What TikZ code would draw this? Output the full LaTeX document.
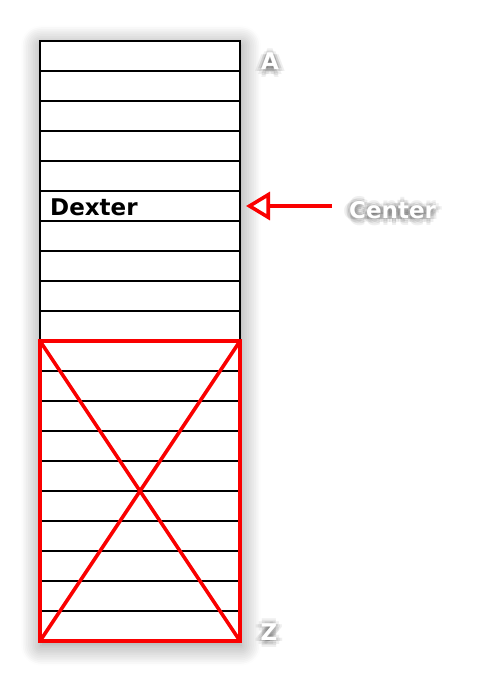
\documentclass[tikz,border=0pt]{standalone}
\usepackage{fontspec}
\newfontfamily\labelfont{DejaVu Sans}
\usetikzlibrary{
  arrows.meta,
  positioning,
  calc,
  shadows.blur
}
\definecolor{markred}{RGB}{250,0,0}
\definecolor{haloshade}{RGB}{30,30,30}

% white label with a soft dark halo
\newcommand\glowlabel[3]{%
  \foreach \gx/\gy in {-2/0,2/0,0/-2,0/2,-4/0,4/0,0/-4,0/4,-3/-3,3/3,-3/3,3/-3,-6/0,6/0,0/-6,0/6}
    \node[glowshade,#2,xshift=\gx bp,yshift=\gy bp-1.5bp] {#3};
  \node[glowfront,#2] (#1) {#3};}

\begin{document}
\begin{tikzpicture}[x=1bp, y=-1bp,
            rowbox/.style={rectangle, draw=black, fill=white, line width=1.8bp, minimum width=200bp, minimum height=30bp, inner sep=0pt, outer sep=0pt},
            colbox/.style={rectangle, fill=white, minimum width=200bp, minimum height=600bp, inner sep=0pt,
              blur shadow={shadow xshift=1bp, shadow yshift=-5bp, shadow blur radius=20bp, shadow opacity=45, shadow blur steps=12}},
            glowshade/.style={font=\labelfont\bfseries\fontsize{23bp}{23bp}\selectfont, text=haloshade, text opacity=0.07, inner sep=0pt},
            glowfront/.style={font=\labelfont\bfseries\fontsize{23bp}{23bp}\selectfont, text=white, inner sep=0pt},
            crossline/.style={draw=markred, line width=3.6bp, line join=miter},
            pointer/.style={draw=markred, line width=3.6bp, -{Triangle[open, length=24bp, width=28bp, fill=white]}}]
  \useasboundingbox (0,0) rectangle (477,682);
  % column with its shadow
  \node[colbox] (col) at (140,340.5) {};
  \foreach \i in {1,...,20}
    \node[rowbox] (r\i) at (140,26+30*\i) {};
  % crossed-out lower half
  \draw[crossline] (r11.north west) rectangle (r20.south east);
  \draw[crossline] (r11.north west) -- (r20.south east);
  \draw[crossline] (r11.north east) -- (r20.south west);
  % entry
  \node[anchor=base west, inner sep=0pt, font=\labelfont\bfseries\fontsize{23bp}{23bp}\selectfont] (dexter) at (50,215) {Dexter};
  % labels
  \glowlabel{top}{anchor=base, at={(270,70)}}{A}
  \glowlabel{bottom}{anchor=base, at={(269,640)}}{Z}
  \glowlabel{mid}{anchor=base west, at={(349,218)}}{Center}
  \draw[pointer, shorten <=17bp, shorten >=6bp] (mid.west |- r6.east) -- (r6.east);
\end{tikzpicture}
\end{document}
